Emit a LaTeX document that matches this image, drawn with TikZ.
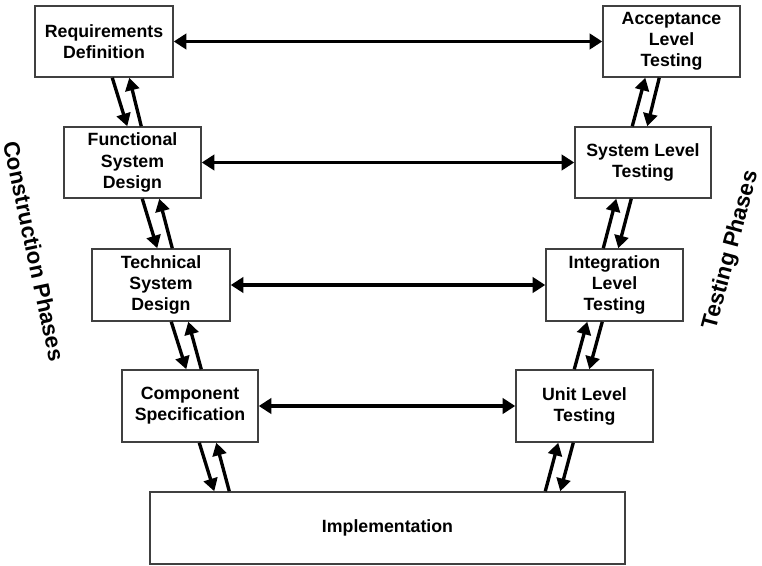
\documentclass[tikz,border=0pt]{standalone}
\usepackage{fontspec}
\setmainfont{Liberation Sans}
\usetikzlibrary{arrows.meta,calc}
\newdimen\upx \upx=0.75pt

\begin{document}
\begin{tikzpicture}[x=0.75pt,y=-0.75pt,
  phase/.style={draw=black!75, line width=1.1pt, fill=white, align=center,
    font=\bfseries\fontsize{13.3}{15.8}\selectfont, inner sep=0pt},
  link/.style={line width=2.5pt,
    {Triangle[length=9.5pt,width=11.5pt]}-{Triangle[length=9.5pt,width=11.5pt]}},
  flow/.style={line width=2.5pt, -{Triangle[length=9.5pt,width=10.5pt]}},
  side/.style={font=\bfseries\fontsize{16.8}{20}\selectfont, inner sep=0pt}]

% canvas
\fill[white] (0,0) rectangle (762,566);
\useasboundingbox (0,0) rectangle (762,566);

% construction phases (left branch)
\node[phase, minimum width=138\upx, minimum height=71\upx] (req)  at (104,41.5)  {Requirements\\Definition};
\node[phase, minimum width=137\upx, minimum height=71\upx] (func) at (132.5,162.5) {Functional\\System\\Design};
\node[phase, minimum width=138\upx, minimum height=72\upx] (tech) at (161,285)   {Technical\\System\\Design};
\node[phase, minimum width=136\upx, minimum height=72\upx] (comp) at (190,406)   {Component\\Specification};

% testing phases (right branch)
\node[phase, minimum width=137\upx, minimum height=71\upx] (acc)   at (671.5,41.5)  {Acceptance\\Level\\Testing};
\node[phase, minimum width=136\upx, minimum height=71\upx] (sys)   at (643,162.5)   {System Level\\Testing};
\node[phase, minimum width=137\upx, minimum height=72\upx] (integ) at (614.5,285)   {Integration\\Level\\Testing};
\node[phase, minimum width=137\upx, minimum height=72\upx] (unit)  at (584.5,406)   {Unit Level\\Testing};

% bottom of the V
\node[phase, minimum width=475\upx, minimum height=72\upx] (impl) at (387.5,528) {Implementation};

% side captions
\node[side, rotate=-78] (cons) at (34,251) {Construction Phases};
\node[side, rotate=75]  (test) at (731,250) {Testing Phases};

% horizontal links between matching levels
\draw[link] (req.east)  -- (acc.west);
\draw[link] (func.east) -- (sys.west);
\draw[link] (tech.east) -- (integ.west);
\draw[link] (comp.east) -- (unit.west);

% left branch: down and back up
\draw[flow] ($(req.south west)+(78,0)$)  -- ($(func.north west)+(64,0)$);
\draw[flow] ($(func.north west)+(78,0)$) -- ($(req.south west)+(95,0)$);
\draw[flow] ($(func.south west)+(79,0)$) -- ($(tech.north west)+(66,0)$);
\draw[flow] ($(tech.north west)+(81,0)$) -- ($(func.south west)+(96,0)$);
\draw[flow] ($(tech.south west)+(80,0)$) -- ($(comp.north west)+(65,0)$);
\draw[flow] ($(comp.north west)+(80,0)$) -- ($(tech.south west)+(97,0)$);
\draw[flow] ($(comp.south west)+(78,0)$) -- ($(impl.north west)+(65,0)$);
\draw[flow] ($(impl.north west)+(80,0)$) -- ($(comp.south west)+(95,0)$);

% right branch: up and back down
\draw[flow] ($(sys.north west)+(58,0)$)   -- ($(acc.south west)+(43,0)$);
\draw[flow] ($(acc.south west)+(57,0)$)   -- ($(sys.north west)+(73,0)$);
\draw[flow] ($(integ.north west)+(58,0)$) -- ($(sys.south west)+(42,0)$);
\draw[flow] ($(sys.south west)+(57,0)$)   -- ($(integ.north west)+(73,0)$);
\draw[flow] ($(unit.north west)+(59,0)$)  -- ($(integ.south west)+(42,0)$);
\draw[flow] ($(integ.south west)+(57,0)$) -- ($(unit.north west)+(74,0)$);
\draw[flow] ($(impl.north west)+(396,0)$) -- ($(unit.south west)+(43,0)$);
\draw[flow] ($(unit.south west)+(58,0)$)  -- ($(impl.north west)+(411,0)$);
\end{tikzpicture}
\end{document}
